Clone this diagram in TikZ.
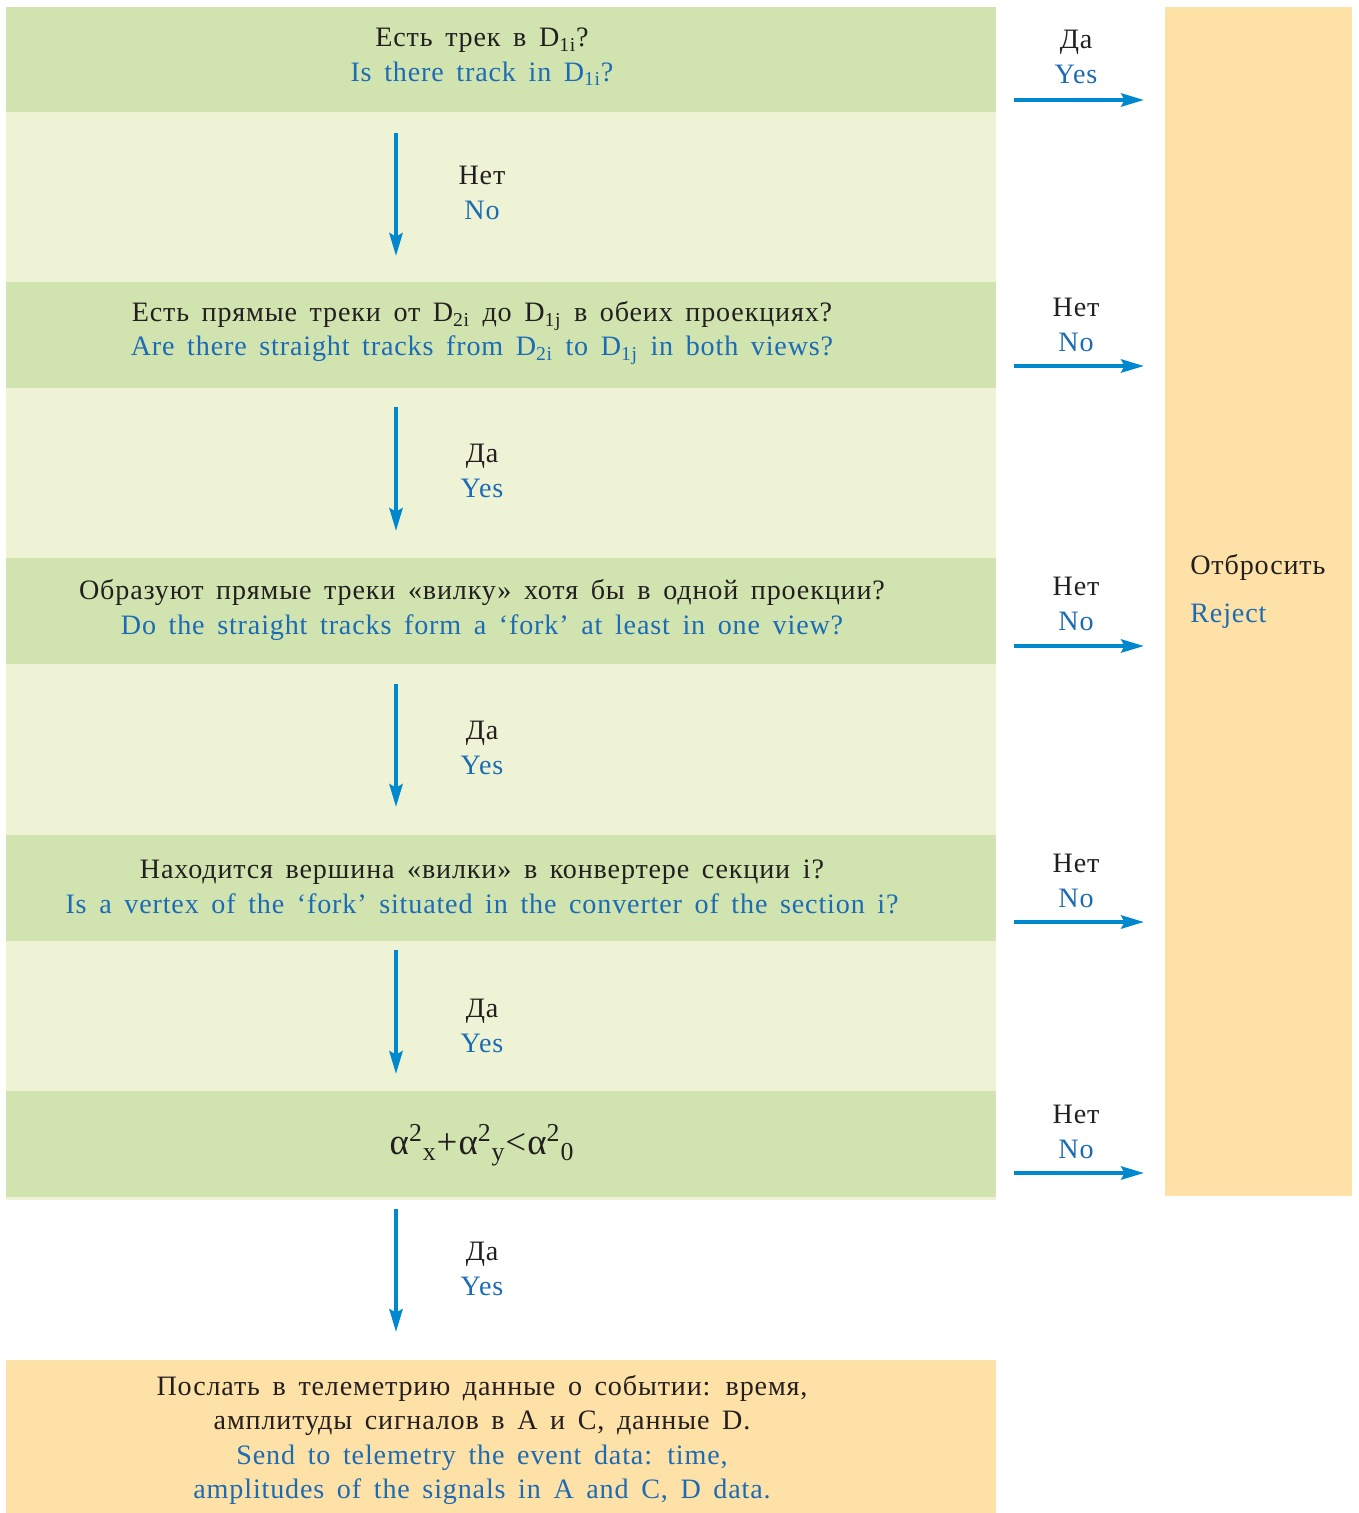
\documentclass[tikz,border=0pt]{standalone}
\usepackage{fontspec}
\setmainfont[LetterSpace=3,WordSpace=1.6]{Liberation Serif}
\usetikzlibrary{arrows.meta}
\definecolor{bandD}{HTML}{D1E4B0}
\definecolor{bandL}{HTML}{EEF3D5}
\definecolor{boxO}{HTML}{FEE1A6}
\definecolor{arrB}{HTML}{0088CF}
\definecolor{tblue}{HTML}{1C6BB5}
\definecolor{tblack}{HTML}{231F20}
\tikzset{
  dband/.style={fill=bandD,draw=none},
  lband/.style={fill=bandL,draw=none},
  obox/.style={fill=boxO,draw=none},
  txt/.style={font=\fontsize{16}{19.5}\selectfont,align=center,inner sep=0pt,text=tblack},
  flow/.style={draw=arrB,line width=2.3pt,-{Stealth[length=13pt,width=7.5pt,inset=2pt]}},
}
\begin{document}
\begin{tikzpicture}[x=0.02cm,y=-0.02cm]
\useasboundingbox (0,0) rectangle (1358,1513);
% bands
\fill[dband] (6,7) rectangle (996,112);
\fill[lband] (6,112) rectangle (996,282);
\fill[dband] (6,282) rectangle (996,388);
\fill[lband] (6,388) rectangle (996,558);
\fill[dband] (6,558) rectangle (996,664);
\fill[lband] (6,664) rectangle (996,835);
\fill[dband] (6,835) rectangle (996,941);
\fill[lband] (6,941) rectangle (996,1091);
\fill[dband] (6,1091) rectangle (996,1197);
\fill[lband] (6,1197) rectangle (996,1200);
\fill[obox] (6,1360) rectangle (996,1513);
\fill[obox] (1165,7) rectangle (1352,1196);
% question texts
\node[txt] (q1) at (482,57) {Есть трек в D\textsubscript{1i}?\\\color{tblue}Is there track in D\textsubscript{1i}?};
\node[txt] (q2) at (482,333) {Есть прямые треки от D\textsubscript{2i} до D\textsubscript{1j} в обеих проекциях?\\\color{tblue}Are there straight tracks from D\textsubscript{2i} to D\textsubscript{1j} in both views?};
\node[txt] (q3) at (482,610) {Образуют прямые треки «вилку» хотя бы в одной проекции?\\\color{tblue}Do the straight tracks form a ‘fork’ at least in one view?};
\node[txt] (q4) at (482,887) {Находится вершина «вилки» в конвертере секции i?\\\color{tblue}Is a vertex of the ‘fork’ situated in the converter of the section i?};
\node[txt,font=\fontsize{21}{24}\selectfont] (q5) at (482,1145) {α\textsuperscript{2}\textsubscript{x}+α\textsuperscript{2}\textsubscript{y}<α\textsuperscript{2}\textsubscript{0}};
\node[txt] (send) at (482,1440) {Послать в телеметрию данные о событии: время,\\амплитуды сигналов в A и C, данные D.\\\color{tblue}Send to telemetry the event data: time,\\\color{tblue}amplitudes of the signals in A and C, D data.};
\node[txt,anchor=west] (rej1) at (1190,567) {Отбросить};
\node[txt,anchor=west,text=tblue] (rej2) at (1190,616) {Reject};
% down labels
\node[txt] (d1) at (482,193) {Нет\\\color{tblue}No};
\node[txt] (d2) at (482,471) {Да\\\color{tblue}Yes};
\node[txt] (d3) at (482,748) {Да\\\color{tblue}Yes};
\node[txt] (d4) at (482,1026) {Да\\\color{tblue}Yes};
\node[txt] (d5) at (482,1269) {Да\\\color{tblue}Yes};
% right labels
\node[txt] (r1) at (1076,57) {Да\\\color{tblue}Yes};
\node[txt] (r2) at (1076,325) {Нет\\\color{tblue}No};
\node[txt] (r3) at (1076,604) {Нет\\\color{tblue}No};
\node[txt] (r4) at (1076,881) {Нет\\\color{tblue}No};
\node[txt] (r5) at (1076,1132) {Нет\\\color{tblue}No};
% arrow endpoints
\coordinate (a1s) at (396,133); \coordinate (a1e) at (396,256);
\coordinate (a2s) at (396,407); \coordinate (a2e) at (396,531);
\coordinate (a3s) at (396,684); \coordinate (a3e) at (396,807);
\coordinate (a4s) at (396,950); \coordinate (a4e) at (396,1074);
\coordinate (a5s) at (396,1209); \coordinate (a5e) at (396,1332);
\coordinate (b1s) at (1014,100); \coordinate (b1e) at (1144,100);
\coordinate (b2s) at (1014,366); \coordinate (b2e) at (1144,366);
\coordinate (b3s) at (1014,646); \coordinate (b3e) at (1144,646);
\coordinate (b4s) at (1014,922); \coordinate (b4e) at (1144,922);
\coordinate (b5s) at (1014,1173); \coordinate (b5e) at (1144,1173);
\foreach \i in {1,...,5} {
  \draw[flow] (a\i s) -- (a\i e);
  \draw[flow] (b\i s) -- (b\i e);
}
\end{tikzpicture}
\end{document}
